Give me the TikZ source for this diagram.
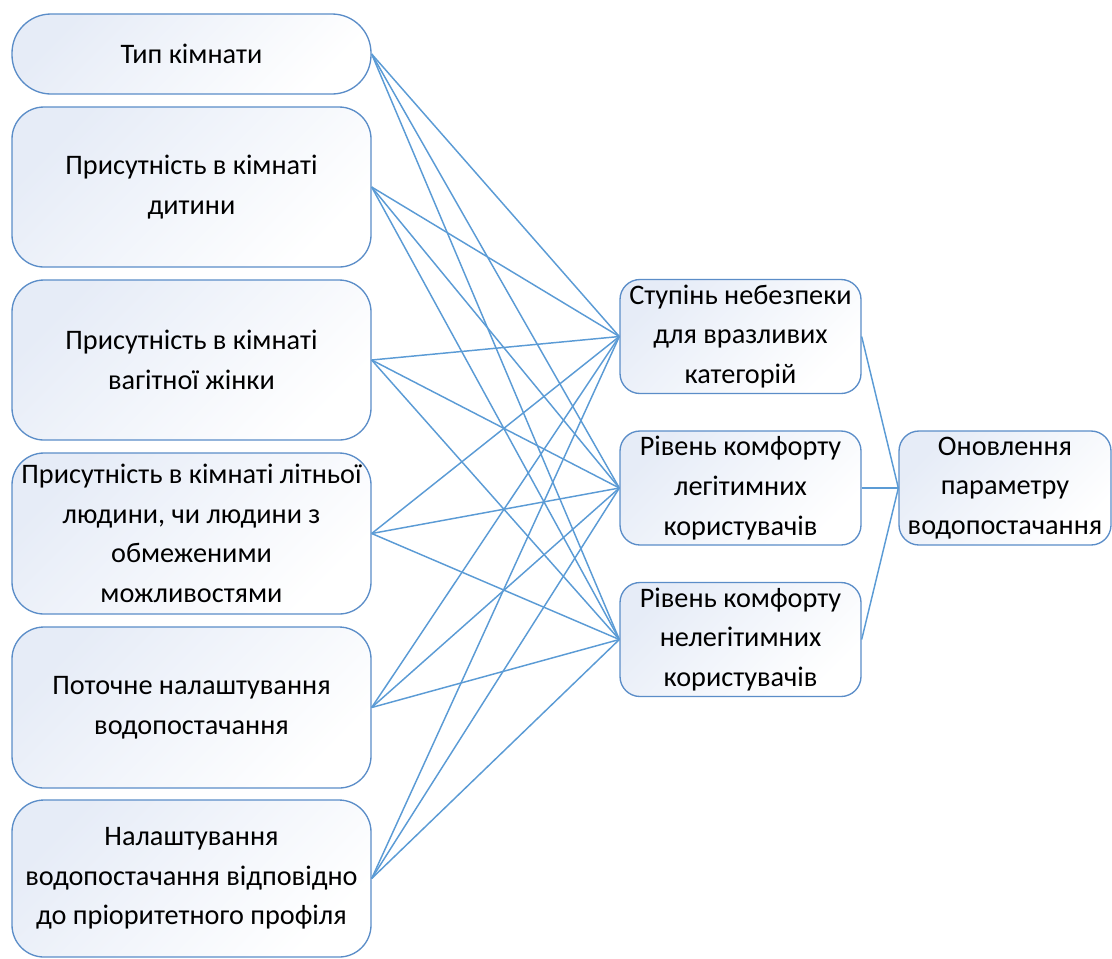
\documentclass[tikz,border=0pt]{standalone}
\usepackage{fontspec}
\setmainfont{Carlito}
\definecolor{edgeblue}{HTML}{5B8DC8}
\definecolor{linkblue}{HTML}{5B9BD5}
\definecolor{fillblue}{HTML}{E6ECF7}
\begin{document}
\begin{tikzpicture}[x=0.75pt,y=-0.75pt,
  box/.style={draw=edgeblue, line width=1pt, top color=fillblue, bottom color=white,
    shading angle=45, align=center, inner sep=0pt,
    font=\fontsize{21.2pt}{29.7pt}\selectfont},
  leftbox/.style={box, minimum width=359*0.75pt, rounded corners=32*0.75pt},
  midbox/.style={box, minimum width=241*0.75pt, minimum height=114*0.75pt, rounded corners=20*0.75pt},
  link/.style={draw=linkblue, line width=1.1pt}]
\useasboundingbox (0,0) rectangle (1112,958);

% input factors
\node[leftbox, minimum height=80*0.75pt, rounded corners=39*0.75pt] (f1) at (191.5,54) {Тип кімнати};
\node[leftbox, minimum height=160*0.75pt] (f2) at (191.5,187) {Присутність в кімнаті\\дитини};
\node[leftbox, minimum height=160*0.75pt] (f3) at (191.5,360) {Присутність в кімнаті\\вагітної жінки};
\node[leftbox, minimum height=161*0.75pt] (f4) at (191.5,533.5) {Присутність в кімнаті літньої\\людини, чи людини з\\обмеженими\\можливостями};
\node[leftbox, minimum height=161*0.75pt] (f5) at (191.5,707.5) {Поточне налаштування\\водопостачання};
\node[leftbox, minimum height=157*0.75pt] (f6) at (191.5,878.5) {Налаштування\\водопостачання відповідно\\до пріоритетного профіля};

% intermediate criteria
\node[midbox] (c1) at (740.5,336.5) {Ступінь небезпеки\\для вразливих\\категорій};
\node[midbox] (c2) at (740.5,488) {Рівень комфорту\\легітимних\\користувачів};
\node[midbox] (c3) at (740.5,639.5) {Рівень комфорту\\нелегітимних\\користувачів};

% output
\node[box, minimum width=212*0.75pt, minimum height=114*0.75pt, rounded corners=20*0.75pt] (out) at (1005,488) {Оновлення\\параметру\\водопостачання};

% every factor feeds every criterion
\foreach \f in {f1,f2,f3,f4,f5,f6}{
  \foreach \c in {c1,c2,c3}{
    \draw[link] (\f.east) -- (\c.west);
  }
}
\foreach \c in {c1,c2,c3}{
  \draw[link] (\c.east) -- (out.west);
}
\end{tikzpicture}
\end{document}
